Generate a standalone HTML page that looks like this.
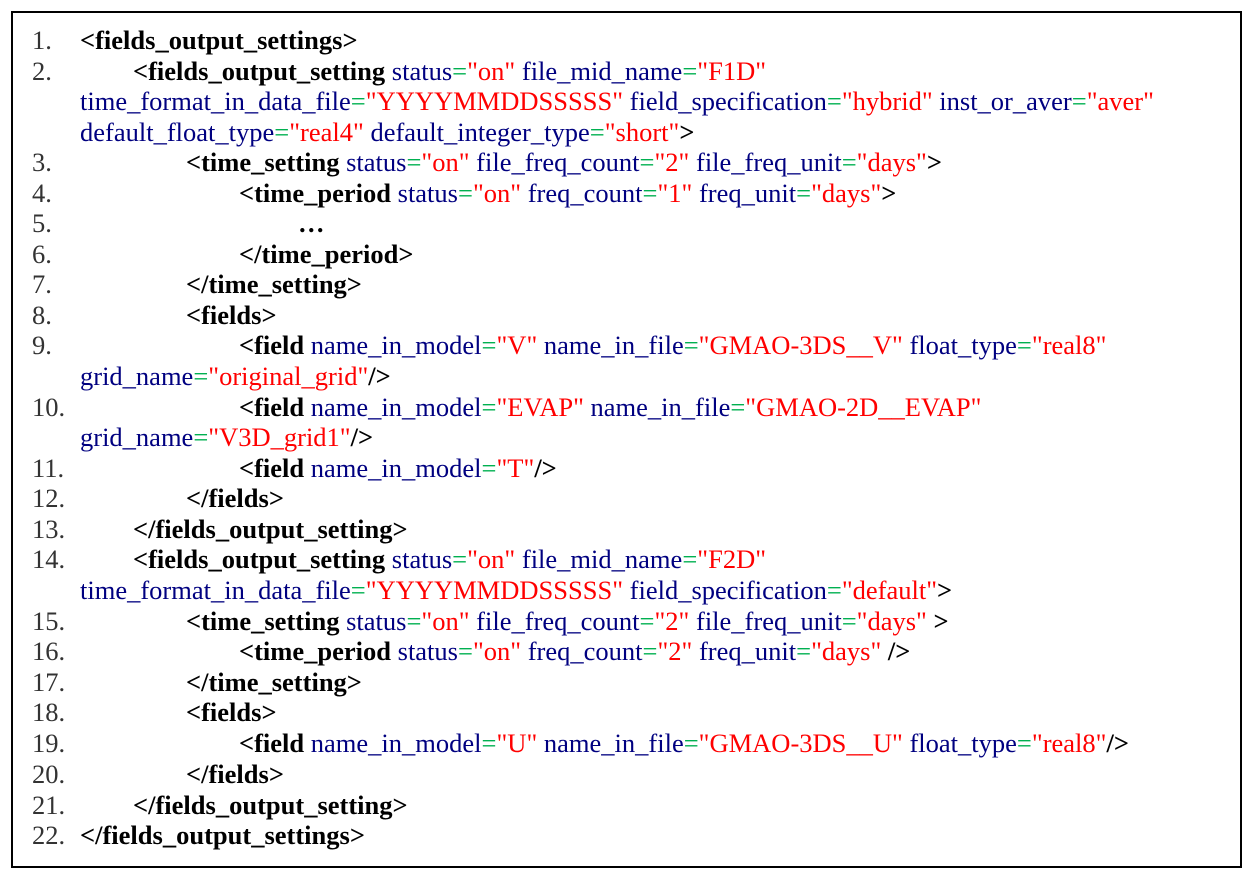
<!DOCTYPE html>
<html><head><meta charset="utf-8"><style>
html,body{margin:0;padding:0;background:#fff;}
body{width:1254px;height:880px;position:relative;overflow:hidden;font-family:"Liberation Serif","Times New Roman",serif;font-size:26.5px;}
.box{position:absolute;left:11px;top:11px;width:1227px;height:853px;border:2px solid #000;}
.r{position:absolute;white-space:pre;line-height:30px;color:#000080;}
.n{position:absolute;left:32px;color:#333;white-space:pre;line-height:30px;}
b{color:#000;}
.e{color:#00b050;}
.v{color:#ff0000;}
</style></head><body>
<div class="box"></div>
<div class="n" style="top:25px">1.</div>
<div class="r" style="left:80px;top:25px"><b>&lt;fields_output_settings&gt;</b></div>
<div class="n" style="top:56px">2.</div>
<div class="r" style="left:133px;top:56px"><b>&lt;fields_output_setting</b> status<span class="e">=</span><span class="v">"on"</span> file_mid_name<span class="e">=</span><span class="v">"F1D"</span></div>
<div class="r" style="left:80px;top:86px">time_format_in_data_file<span class="e">=</span><span class="v">"YYYYMMDDSSSSS"</span> field_specification<span class="e">=</span><span class="v">"hybrid"</span> inst_or_aver<span class="e">=</span><span class="v">"aver"</span></div>
<div class="r" style="left:80px;top:117px">default_float_type<span class="e">=</span><span class="v">"real4"</span> default_integer_type<span class="e">=</span><span class="v">"short"</span><b>&gt;</b></div>
<div class="n" style="top:147px">3.</div>
<div class="r" style="left:186px;top:147px"><b>&lt;time_setting</b> status<span class="e">=</span><span class="v">"on"</span> file_freq_count<span class="e">=</span><span class="v">"2"</span> file_freq_unit<span class="e">=</span><span class="v">"days"</span><b>&gt;</b></div>
<div class="n" style="top:178px">4.</div>
<div class="r" style="left:239px;top:178px"><b>&lt;time_period</b> status<span class="e">=</span><span class="v">"on"</span> freq_count<span class="e">=</span><span class="v">"1"</span> freq_unit<span class="e">=</span><span class="v">"days"</span><b>&gt;</b></div>
<div class="n" style="top:208px">5.</div>
<div class="r" style="left:298px;top:208px"><b>…</b></div>
<div class="n" style="top:239px">6.</div>
<div class="r" style="left:239px;top:239px"><b>&lt;/time_period&gt;</b></div>
<div class="n" style="top:269px">7.</div>
<div class="r" style="left:186px;top:269px"><b>&lt;/time_setting&gt;</b></div>
<div class="n" style="top:300px">8.</div>
<div class="r" style="left:186px;top:300px"><b>&lt;fields&gt;</b></div>
<div class="n" style="top:330px">9.</div>
<div class="r" style="left:239px;top:330px"><b>&lt;field</b> name_in_model<span class="e">=</span><span class="v">"V"</span> name_in_file<span class="e">=</span><span class="v">"GMAO-3DS__V"</span> float_type<span class="e">=</span><span class="v">"real8"</span></div>
<div class="r" style="left:80px;top:361px">grid_name<span class="e">=</span><span class="v">"original_grid"</span><b>/&gt;</b></div>
<div class="n" style="top:392px">10.</div>
<div class="r" style="left:239px;top:392px"><b>&lt;field</b> name_in_model<span class="e">=</span><span class="v">"EVAP"</span> name_in_file<span class="e">=</span><span class="v">"GMAO-2D__EVAP"</span></div>
<div class="r" style="left:80px;top:422px">grid_name<span class="e">=</span><span class="v">"V3D_grid1"</span><b>/&gt;</b></div>
<div class="n" style="top:453px">11.</div>
<div class="r" style="left:239px;top:453px"><b>&lt;field</b> name_in_model<span class="e">=</span><span class="v">"T"</span><b>/&gt;</b></div>
<div class="n" style="top:483px">12.</div>
<div class="r" style="left:186px;top:483px"><b>&lt;/fields&gt;</b></div>
<div class="n" style="top:514px">13.</div>
<div class="r" style="left:133px;top:514px"><b>&lt;/fields_output_setting&gt;</b></div>
<div class="n" style="top:544px">14.</div>
<div class="r" style="left:133px;top:544px"><b>&lt;fields_output_setting</b> status<span class="e">=</span><span class="v">"on"</span> file_mid_name<span class="e">=</span><span class="v">"F2D"</span></div>
<div class="r" style="left:80px;top:575px">time_format_in_data_file<span class="e">=</span><span class="v">"YYYYMMDDSSSSS"</span> field_specification<span class="e">=</span><span class="v">"default"</span><b>&gt;</b></div>
<div class="n" style="top:606px">15.</div>
<div class="r" style="left:186px;top:606px"><b>&lt;time_setting</b> status<span class="e">=</span><span class="v">"on"</span> file_freq_count<span class="e">=</span><span class="v">"2"</span> file_freq_unit<span class="e">=</span><span class="v">"days"</span> <b>&gt;</b></div>
<div class="n" style="top:636px">16.</div>
<div class="r" style="left:239px;top:636px"><b>&lt;time_period</b> status<span class="e">=</span><span class="v">"on"</span> freq_count<span class="e">=</span><span class="v">"2"</span> freq_unit<span class="e">=</span><span class="v">"days"</span> <b>/&gt;</b></div>
<div class="n" style="top:667px">17.</div>
<div class="r" style="left:186px;top:667px"><b>&lt;/time_setting&gt;</b></div>
<div class="n" style="top:697px">18.</div>
<div class="r" style="left:186px;top:697px"><b>&lt;fields&gt;</b></div>
<div class="n" style="top:728px">19.</div>
<div class="r" style="left:239px;top:728px"><b>&lt;field</b> name_in_model<span class="e">=</span><span class="v">"U"</span> name_in_file<span class="e">=</span><span class="v">"GMAO-3DS__U"</span> float_type<span class="e">=</span><span class="v">"real8"</span><b>/&gt;</b></div>
<div class="n" style="top:759px">20.</div>
<div class="r" style="left:186px;top:759px"><b>&lt;/fields&gt;</b></div>
<div class="n" style="top:790px">21.</div>
<div class="r" style="left:133px;top:790px"><b>&lt;/fields_output_setting&gt;</b></div>
<div class="n" style="top:820px">22.</div>
<div class="r" style="left:80px;top:820px"><b>&lt;/fields_output_settings&gt;</b></div>
</body></html>
